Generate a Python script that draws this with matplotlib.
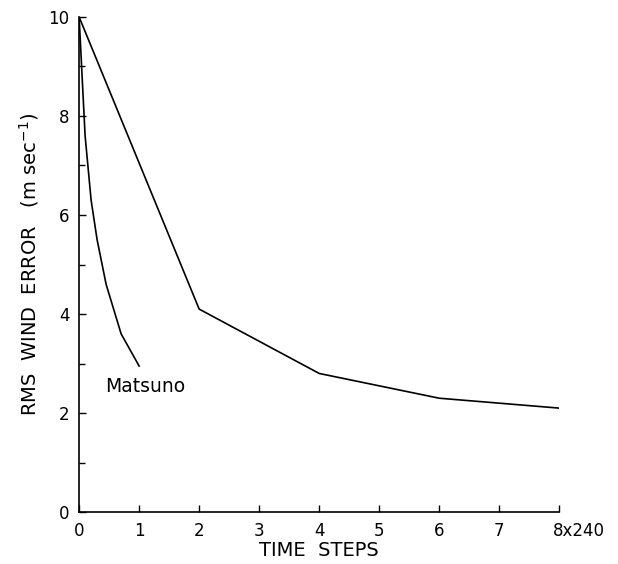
import matplotlib
matplotlib.use("Agg")
import matplotlib.pyplot as plt
import matplotlib.transforms as mtransforms

# --- data ---
main_x = [0, 2, 4, 6, 8]
main_y = [10, 4.1, 2.8, 2.3, 2.1]

matsuno_x = [0, 0.1, 0.2, 0.3, 0.45, 0.7, 1.0]
matsuno_y = [10, 7.6, 6.3, 5.5, 4.6, 3.6, 2.95]

x_ticks = [0, 1, 2, 3, 4, 5, 6, 7, 8]
x_labels = ["0", "1", "2", "3", "4", "5", "6", "7", "8x240"]
y_major = [0, 2, 4, 6, 8, 10]
y_minor = [1, 3, 5, 7, 9]

plt.rcParams["font.family"] = "DejaVu Sans"
plt.rcParams["font.size"] = 12

fig = plt.figure(figsize=(6.18, 5.64), dpi=100)
ax = fig.add_axes([0.128, 0.092, 0.777, 0.878])

ax.plot(main_x, main_y, color="black", lw=1.2)
ax.plot(matsuno_x, matsuno_y, color="black", lw=1.2)
ax.text(0.43, 2.53, "Matsuno", fontsize=13.5, ha="left", va="center")

ax.set_xlim(0, 8)
ax.set_ylim(0, 10)
ax.spines["top"].set_visible(False)
ax.spines["right"].set_visible(False)
for s in ("left", "bottom"):
    ax.spines[s].set_linewidth(1.2)

ax.set_xticks(x_ticks)
ax.set_xticklabels(x_labels)
ax.set_yticks(y_major)
ax.set_yticks(y_minor, minor=True)
ax.tick_params(which="major", direction="in", length=5, width=1, pad=7)
ax.tick_params(which="minor", direction="in", length=4, width=1)

# last x label starts near its tick
lab = ax.get_xticklabels()[-1]
lab.set_horizontalalignment("left")
lab.set_transform(lab.get_transform() + mtransforms.ScaledTranslation(-6 / 100, 0, fig.dpi_scale_trans))

ax.set_xlabel("TIME  STEPS", fontsize=14, labelpad=1)
ax.set_ylabel("RMS  WIND  ERROR   (m sec$^{-1}$)", fontsize=14, labelpad=5)

fig.savefig("out.png", dpi=100)
